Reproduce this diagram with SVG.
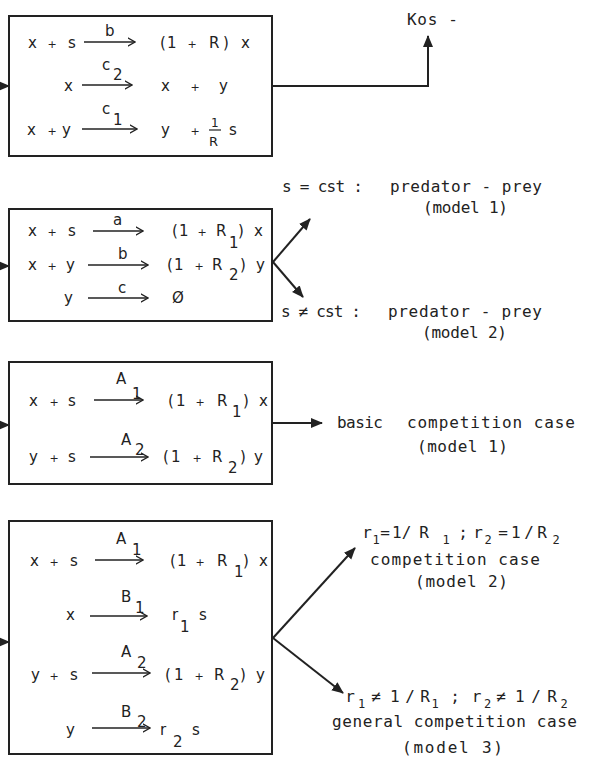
<svg xmlns="http://www.w3.org/2000/svg" width="601" height="765" viewBox="0 0 601 765">
<style>
text{font-family:"DejaVu Sans","Liberation Sans",sans-serif;fill:#222;}
.e{font-size:15px;}
.p{font-size:11px;text-anchor:middle;}
.l{font-family:"DejaVu Sans Mono","Liberation Mono",monospace;font-size:16px;}
.c{font-family:"DejaVu Sans Mono","Liberation Mono",monospace;font-size:16px;text-anchor:middle;}
.s{font-family:"DejaVu Sans Mono","Liberation Mono",monospace;font-size:12px;text-anchor:middle;}
.box{fill:none;stroke:#222;stroke-width:2;}
.ra{fill:none;stroke:#222;stroke-width:1.3;marker-end:url(#chev);}
.con{fill:none;stroke:#222;stroke-width:2;marker-end:url(#tri);}
</style>
<defs>
<marker id="tri" viewBox="0 0 12 10" refX="11" refY="5" markerWidth="12" markerHeight="11" markerUnits="userSpaceOnUse" orient="auto"><path d="M0,0 L12,5 L0,10 z" fill="#222"/></marker>
<marker id="chev" viewBox="0 0 8 10" refX="7.5" refY="5" markerWidth="8" markerHeight="10" markerUnits="userSpaceOnUse" orient="auto"><path d="M0,0.8 L7.5,5 L0,9.2" fill="none" stroke="#222" stroke-width="1.3"/></marker>
</defs>
<rect width="601" height="765" fill="#fff"/>

<g id="connectors">
<path class="con" d="M-20,86 H9"/>
<path class="con" d="M-20,266 H9"/>
<path class="con" d="M-20,425 H9"/>
<path class="con" d="M-20,642 H9"/>
<path class="con" d="M273,86 H428 V36"/>
<path class="con" d="M273,262 L310,219"/>
<path class="con" d="M273,262 L303,297"/>
<path class="con" d="M273,423 H322"/>
<path class="con" d="M273,638 L355,548"/>
<path class="con" d="M273,638 L343,693"/>
</g>

<g id="box1">
<rect class="box" x="9" y="16" width="263" height="140"/>
<text class="e" x="28" y="48">x</text><text class="p" x="52" y="48">+</text><text class="e" x="68" y="48">s</text>
<path class="ra" d="M84,42 H135"/><text class="e" x="105" y="36">b</text>
<text class="e" x="160" y="48">(</text><text class="e" x="167" y="48">1</text><text class="p" x="192" y="48">+</text><text class="e" x="209" y="48">R</text><text class="e" x="223" y="48">)</text><text class="e" x="241" y="48">x</text>
<text class="e" x="64" y="91">x</text>
<path class="ra" d="M82,85 H132"/><text class="e" x="102" y="70">c</text><text class="e" x="113" y="80">2</text>
<text class="e" x="161" y="91">x</text><text class="p" x="195" y="91">+</text><text class="e" x="219" y="91">y</text>
<text class="e" x="27" y="135">x</text><text class="p" x="52" y="135">+</text><text class="e" x="62" y="135">y</text>
<path class="ra" d="M82,129 H137"/><text class="e" x="102" y="114">c</text><text class="e" x="113" y="125">1</text>
<text class="e" x="161" y="135">y</text><text class="p" x="195" y="135">+</text>
<text class="e" x="211" y="127" style="font-size:12px">1</text><path d="M209,130 H221" stroke="#222" stroke-width="1.2"/><text class="e" x="209" y="146" style="font-size:13px">R</text>
<text class="e" x="229" y="135">s</text>
</g>

<g id="kos">
<text class="l" x="407" y="25" textLength="51">Kos -</text>
</g>

<g id="box2">
<rect class="box" x="9" y="209" width="263" height="112"/>
<text class="e" x="28" y="236">x</text><text class="p" x="52" y="236">+</text><text class="e" x="68" y="236">s</text>
<path class="ra" d="M93,231 H143"/><text class="e" x="113" y="225">a</text>
<text class="e" x="172" y="236">(</text><text class="e" x="179" y="236">1</text><text class="p" x="202" y="236">+</text><text class="e" x="216" y="236">R</text><text class="e" x="229" y="248">1</text><text class="e" x="238" y="236">)</text><text class="e" x="254" y="236">x</text>
<text class="e" x="28" y="270">x</text><text class="p" x="52" y="270">+</text><text class="e" x="66" y="270">y</text>
<path class="ra" d="M88,265 H148"/><text class="e" x="118" y="259">b</text>
<text class="e" x="167" y="270">(</text><text class="e" x="174" y="270">1</text><text class="p" x="199" y="270">+</text><text class="e" x="212" y="270">R</text><text class="e" x="229" y="280">2</text><text class="e" x="240" y="270">)</text><text class="e" x="256" y="270">y</text>
<text class="e" x="64" y="303">y</text>
<path class="ra" d="M88,298 H148"/><text class="e" x="118" y="293">c</text>
<text class="e" x="172" y="303">Ø</text>
</g>

<g id="predprey">
<text class="l" x="282" y="192" textLength="81">s = cst :</text>
<text class="l" x="390" y="192" textLength="152">predator - prey</text>
<text class="l" x="423" y="213" textLength="85">(model 1)</text>
<text class="l" x="281" y="317" textLength="80">s ≠ cst :</text>
<text class="l" x="388" y="317" textLength="154">predator - prey</text>
<text class="l" x="422" y="338" textLength="85">(model 2)</text>
</g>

<g id="box3">
<rect class="box" x="9" y="362" width="263" height="122"/>
<text class="e" x="29" y="406">x</text><text class="p" x="54" y="406">+</text><text class="e" x="68" y="406">s</text>
<path class="ra" d="M94,400 H143"/><text class="e" x="116" y="384">A</text><text class="e" x="132" y="399">1</text>
<text class="e" x="168" y="406">(</text><text class="e" x="176" y="406">1</text><text class="p" x="200" y="406">+</text><text class="e" x="217" y="406">R</text><text class="e" x="232" y="417">1</text><text class="e" x="243" y="406">)</text><text class="e" x="259" y="406">x</text>
<text class="e" x="29" y="462">y</text><text class="p" x="54" y="462">+</text><text class="e" x="68" y="462">s</text>
<path class="ra" d="M90,457 H148"/><text class="e" x="121" y="445">A</text><text class="e" x="135" y="455">2</text>
<text class="e" x="163" y="462">(</text><text class="e" x="171" y="462">1</text><text class="p" x="197" y="462">+</text><text class="e" x="212" y="462">R</text><text class="e" x="228" y="473">2</text><text class="e" x="240" y="462">)</text><text class="e" x="254" y="462">y</text>
</g>

<g id="basic">
<text class="l" x="337" y="428" textLength="46">basic</text>
<text class="l" x="407" y="428" textLength="168">competition case</text>
<text class="l" x="417" y="452" textLength="91">(model 1)</text>
</g>

<g id="box4">
<rect class="box" x="9" y="521" width="263" height="233"/>
<text class="e" x="30" y="566">x</text><text class="p" x="54" y="566">+</text><text class="e" x="70" y="566">s</text>
<path class="ra" d="M95,560 H143"/><text class="e" x="116" y="544">A</text><text class="e" x="132" y="555">1</text>
<text class="e" x="170" y="566">(</text><text class="e" x="177" y="566">1</text><text class="p" x="200" y="566">+</text><text class="e" x="217" y="566">R</text><text class="e" x="234" y="577">1</text><text class="e" x="243" y="566">)</text><text class="e" x="259" y="566">x</text>
<text class="e" x="66" y="620">x</text>
<path class="ra" d="M90,616 H147"/><text class="e" x="121" y="602">B</text><text class="e" x="135" y="613">1</text>
<text class="e" x="172" y="620">r</text><text class="e" x="180" y="632">1</text><text class="e" x="199" y="620">s</text>
<text class="e" x="31" y="680">y</text><text class="p" x="54" y="680">+</text><text class="e" x="70" y="680">s</text>
<path class="ra" d="M92,673 H150"/><text class="e" x="121" y="657">A</text><text class="e" x="137" y="668">2</text>
<text class="e" x="165" y="680">(</text><text class="e" x="174" y="680">1</text><text class="p" x="199" y="680">+</text><text class="e" x="214" y="680">R</text><text class="e" x="230" y="690">2</text><text class="e" x="240" y="680">)</text><text class="e" x="256" y="680">y</text>
<text class="e" x="66" y="735">y</text>
<path class="ra" d="M92,728 H150"/><text class="e" x="121" y="717">B</text><text class="e" x="137" y="727">2</text>
<text class="e" x="160" y="735">r</text><text class="e" x="173" y="747">2</text><text class="e" x="192" y="735">s</text>
</g>

<g id="comp2">
<text class="c" x="367" y="538">r</text><text class="s" x="376" y="544">1</text><text class="c" x="385" y="538">=</text><text class="l" x="392" y="538">1/</text><text class="c" x="424" y="538">R</text><text class="s" x="446" y="544">1</text><text class="c" x="463" y="538">;</text><text class="c" x="478" y="538">r</text><text class="s" x="488" y="544">2</text><text class="c" x="503" y="538">=</text><text class="l" x="511" y="538" textLength="36">1/R</text><text class="s" x="556" y="544">2</text>
<text class="l" x="370" y="565" textLength="170">competition case</text>
<text class="l" x="415" y="587" textLength="93">(model 2)</text>
</g>

<g id="comp3">
<text class="c" x="350" y="702">r</text><text class="s" x="361.5" y="708">1</text><text class="c" x="376" y="702">≠</text><text class="l" x="390" y="702" textLength="40">1/R</text><text class="s" x="435" y="708">1</text><text class="c" x="455" y="702">;</text><text class="c" x="476.5" y="702">r</text><text class="s" x="487.5" y="708">2</text><text class="c" x="501" y="702">≠</text><text class="l" x="515" y="702" textLength="42">1/R</text><text class="s" x="564" y="708">2</text>
<text class="l" x="332" y="727" textLength="245">general competition case</text>
<text class="l" x="402" y="753" textLength="101">(model 3)</text>
</g>
</svg>
